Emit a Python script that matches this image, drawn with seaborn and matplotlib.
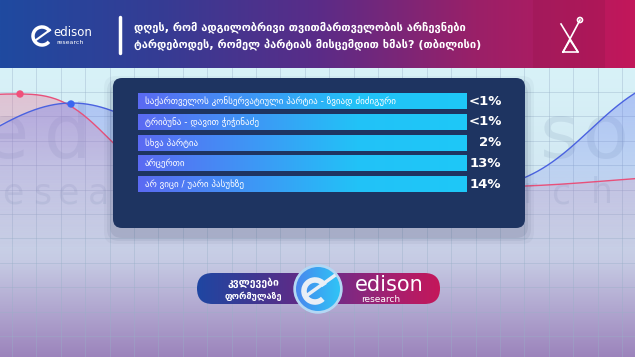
import numpy as np
import pandas as pd
import seaborn as sns
import matplotlib.pyplot as plt
from matplotlib.colors import LinearSegmentedColormap, to_rgb
from matplotlib.patches import FancyBboxPatch, Rectangle, Circle, Arc
from matplotlib.transforms import blended_transform_factory

plt.rcParams["font.family"] = ["DejaVu Sans"]

# --- data ---
title_lines = ["დღეს, რომ ადგილობრივი თვითმართველობის არჩევნები",
               "ტარდებოდეს, რომელ პარტიას მისცემდით ხმას? (თბილისი)"]
answers = ["საქართველოს კონსერვატიული პარტია - ზვიად ძიძიგური",
           "ტრიბუნა - დავით ჭიჭინაძე",
           "სხვა პარტია",
           "არცერთი",
           "არ ვიცი / უარი პასუხზე"]
shares = [0.4, 0.4, 2, 13, 14]
share_labels = ["<1%", "<1%", "2%", "13%", "14%"]
track = [100, 100, 100, 100, 100]  # every answer sits on a full-width strip

df = pd.DataFrame({"answer": answers, "track": track, "share": shares, "label": share_labels})

W, H = 635, 357
fig = plt.figure(figsize=(W / 100, H / 100), dpi=100)

# background canvas in pixel units
bg = fig.add_axes([0, 0, 1, 1])
bg.set_xlim(0, W)
bg.set_ylim(H, 0)
bg.axis("off")


def grad(stops, n=256):
    return LinearSegmentedColormap.from_list("g", stops)(np.linspace(0, 1, n))


def fade(color, a0, a1, n=128):
    arr = np.zeros((n, 1, 4))
    arr[:, 0, :3] = to_rgb(color)
    arr[:, 0, 3] = np.linspace(a0, a1, n)
    return arr


# body and header
bg.imshow(grad(["#d8f2f8", "#d3e9f3", "#c6cbe4", "#9c84bc"])[:, None, :],
          extent=(0, W, H, 68), aspect="auto", zorder=0)
bg.imshow(grad(["#1f4aa0", "#353c94", "#5a2c88", "#9a2068", "#c2175a"])[None, :, :],
          extent=(0, W, 68, 0), aspect="auto", zorder=1)
bg.add_patch(Rectangle((533, 0), 72, 68, color="#9a1650", alpha=0.35, lw=0, zorder=2))

# grid
for gx in np.arange(12, W, 24.4):
    bg.plot([gx, gx], [68, H], color="#98b0c8", lw=0.6, alpha=0.45, zorder=1)
for gy in np.arange(92, H, 24.4):
    bg.plot([0, W], [gy, gy], color="#98b0c8", lw=0.6, alpha=0.45, zorder=1)

# watermark letters that peek out beside the panel
for ch, cx in [("e", 6), ("d", 68), ("s", 559), ("o", 606)]:
    bg.text(cx, 158, ch, fontsize=54, color="#7f98b4", alpha=0.18,
            ha="center", va="baseline", zorder=2)
for ch, cx in [("e", 13), ("s", 42), ("e", 68), ("a", 99), ("r", 530), ("c", 561), ("h", 602)]:
    bg.text(cx, 203, ch, fontsize=25, color="#7f98b4", alpha=0.18,
            ha="center", va="baseline", zorder=2)

# decorative waves
wx = np.linspace(0, W, 400)
red = (188 - 94 * np.exp(-(np.abs(wx - 15) / 109) ** 2.95)
       - 12 * np.exp(-((wx - 700) / 130) ** 2))
blue = (195 - 92 * np.exp(-((wx - 72) / 135) ** 2)
        - 130 / (1 + np.exp(-(wx - 590) / 35)))
for curve, col in [(red, "#f06a8c"), (blue, "#5a6cf0")]:
    poly = bg.fill_between(wx, curve, 250, color="none", lw=0, zorder=2)
    im = bg.imshow(fade(col, 0.35, 0.0), extent=(0, W, 250, 85), aspect="auto", zorder=2)
    im.set_clip_path(poly.get_paths()[0], poly.get_transform())
bg.plot(wx, red, color="#e8507a", lw=1, zorder=3)
bg.plot(wx, blue, color="#4a62e0", lw=1, zorder=3)
bg.add_patch(Circle((20, 94), 3, color="#f0507a", zorder=4))
bg.add_patch(Circle((71, 104), 3, color="#3a66f0", zorder=4))

# panel with soft shadow
for k, a in [(9, 0.04), (6, 0.06), (3, 0.09)]:
    bg.add_patch(FancyBboxPatch((113 - k, 80 - k + 5), 412 + 2 * k, 150 + 2 * k,
                                boxstyle="round,pad=0,rounding_size=12",
                                fc="#1a2a4a", ec="none", alpha=a, zorder=4))
bg.add_patch(FancyBboxPatch((113, 78), 412, 150, boxstyle="round,pad=0,rounding_size=9",
                            fc="#1e3461", ec="none", zorder=5))

# header content
bg.plot([120, 120], [17, 53], color="white", lw=2.5, solid_capstyle="round", zorder=6)
bg.text(134, 27, title_lines[0], fontsize=8, fontweight="bold", color="white", va="center", zorder=6)
bg.text(134, 44, title_lines[1], fontsize=8, fontweight="bold", color="white", va="center", zorder=6)
bg.add_patch(Arc((42, 36), 18, 18, theta1=40, theta2=330, color="white", lw=2.5, zorder=6))
bg.plot([36, 50], [40, 30], color="white", lw=1.5, zorder=6)
bg.text(53, 33, "edison", fontsize=8.5, color="white", va="center", zorder=6)
bg.text(56, 43, "research", fontsize=4.5, color="white", va="center", zorder=6)
bg.plot([561, 578], [24, 52], color="white", lw=1.2, zorder=6)
bg.plot([580, 563], [20, 52], color="white", lw=1.2, zorder=6)
bg.plot([563, 578, 570, 563], [52, 52, 40, 52], color="white", lw=1.2, zorder=6)
bg.add_patch(Circle((580, 20), 2.5, fill=False, ec="white", lw=1.2, zorder=6))

# bottom logo
pill = FancyBboxPatch((197, 273), 243, 31, boxstyle="round,pad=0,rounding_size=15.5",
                      fc="none", ec="none", zorder=6)
bg.add_patch(pill)
im = bg.imshow(grad(["#1f46a2", "#3a3a94", "#5c2c88", "#7a2a84", "#a52070", "#c4175a"])[None, :, :],
               extent=(197, 440, 304, 273), aspect="auto", zorder=6)
im.set_clip_path(pill)
bg.add_patch(Circle((318, 289), 24, color="#b4d8f4", zorder=7))
ring = Circle((318, 289), 22, fc="none", ec="none", zorder=7)
bg.add_patch(ring)
ci = bg.imshow(grad(["#4a86ee", "#3aa6f2", "#30c4f6"])[None, :, :],
               extent=(296, 340, 311, 267), aspect="auto", zorder=7)
ci.set_clip_path(ring)
bg.add_patch(Arc((315, 291), 22, 22, theta1=45, theta2=330, color="#e8eef6", lw=4, zorder=8))
bg.plot([306, 334], [296, 276], color="#e8eef6", lw=2.5, zorder=8)
bg.text(253, 283, "კვლევები", fontsize=7.5, fontweight="bold", color="white", ha="center", va="center", zorder=8)
bg.text(253, 296, "ფორმულაზე", fontsize=6.5, fontweight="bold", color="white", ha="center", va="center", zorder=8)
bg.text(389, 285, "edison", fontsize=15, color="white", ha="center", va="center", zorder=8)
bg.text(381, 300, "research", fontsize=6.5, color="white", ha="center", va="center", zorder=8)

# --- bars ---
ax = fig.add_axes([138 / W, 1 - 194.4 / H, 329 / W, 103.5 / H])
sns.barplot(data=df, x="track", y="answer", orient="h", width=0.78, color="#3f9cf4", ax=ax)
ax.set_xlim(0, 100)
ylim = ax.get_ylim()
bar_cmap = grad(["#5b6af2", "#3f95f5", "#22c2f7", "#1ec8f8"])[None, :, :]
for p in ax.patches:
    p.set_edgecolor("none")
    img = ax.imshow(bar_cmap, extent=(p.get_x(), p.get_x() + p.get_width(),
                                      p.get_y() + p.get_height(), p.get_y()),
                    aspect="auto", zorder=2)
    img.set_clip_path(p)
ax.set_xlim(0, 100)
ax.set_ylim(ylim)
ax.axis("off")

trans = blended_transform_factory(ax.transAxes, ax.transData)
for i, row in df.iterrows():
    ax.text(2, i, row["answer"], fontsize=6.5, color="white", ha="left", va="center", zorder=3)
    ax.text(1.105, i, row["label"], transform=trans, fontsize=9.5, fontweight="bold",
            color="white", ha="right", va="center", clip_on=False, zorder=3)

fig.savefig("out.png", dpi=100)
